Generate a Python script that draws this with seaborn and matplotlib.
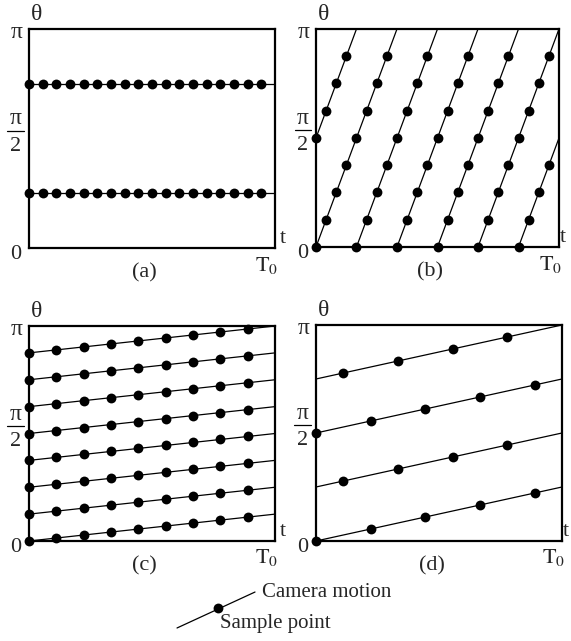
import numpy as np
import pandas as pd
import matplotlib
matplotlib.use("Agg")
import matplotlib.pyplot as plt
import seaborn as sns

# time is in units of T0, angle theta in units of pi
# (a) two fixed cameras, 18 samples
cams_a = [0.25, 0.75]
rate_a = 0.0
n_a = 18
sets_a = [[0.25, 0.75]]

# (b) two cameras turning fast, 24 samples
cams_b = [0.0, 0.5]
rate_b = 3.0
n_b = 24
sets_b = [[0.0, 0.5]]

# (c) eight cameras turning slowly, 9 samples
cams_c = [0.0, 0.125, 0.25, 0.375, 0.5, 0.625, 0.75, 0.875]
rate_c = 0.125
n_c = 9
sets_c = [cams_c]

# (d) four cameras, pairs sampled in turn, 9 samples
cams_d = [0.0, 0.25, 0.5, 0.75]
rate_d = 0.25
n_d = 9
sets_d = [[0.0, 0.5], [0.25, 0.75]]

panels = [("(a)", cams_a, rate_a, n_a, sets_a),
          ("(b)", cams_b, rate_b, n_b, sets_b),
          ("(c)", cams_c, rate_c, n_c, sets_c),
          ("(d)", cams_d, rate_d, n_d, sets_d)]

sns.set_theme(style="white")
plt.rcParams["font.family"] = ["Liberation Serif", "DejaVu Serif"]
plt.rcParams["mathtext.fontset"] = "stix"


def motion_lines(cams, rate):
    rows = []
    seg = 0
    for c in cams:
        if rate == 0:
            rows += [(seg, 0.0, c), (seg, 1.0, c)]
            seg += 1
            continue
        k = int(np.floor(c))
        while True:
            t0 = max(0.0, (k - c) / rate)
            t1 = min(1.0, (k + 1 - c) / rate)
            if t0 >= 1.0:
                break
            rows += [(seg, t0, c + rate * t0 - k), (seg, t1, c + rate * t1 - k)]
            seg += 1
            k += 1
    return pd.DataFrame(rows, columns=["seg", "t", "theta"])


def sample_points(rate, n, sets):
    rows = []
    for j in range(n):
        t = j / n
        for c in sets[j % len(sets)]:
            rows.append((t, (c + rate * t) % 1.0))
    return pd.DataFrame(rows, columns=["t", "theta"])


fig = plt.figure(figsize=(5.71, 6.41), dpi=100)
boxes = [[0.0508, 0.6131, 0.4308, 0.3417],
         [0.5534, 0.6147, 0.4256, 0.3401],
         [0.0508, 0.1560, 0.4308, 0.3354],
         [0.5534, 0.1560, 0.4308, 0.3370]]

fs = 15
gs = 17  # greek letters look a bit bigger in the original
for i, ((label, cams, rate, n, sets), box) in enumerate(zip(panels, boxes)):
    ax = fig.add_axes(box)
    lines = motion_lines(cams, rate)
    pts = sample_points(rate, n, sets)
    sns.lineplot(data=lines, x="t", y="theta", units="seg", estimator=None,
                 sort=False, color="black", lw=0.9, ax=ax, legend=False)
    sns.scatterplot(data=pts, x="t", y="theta", color="black", s=50,
                    linewidth=0, ax=ax, zorder=3, clip_on=False, legend=False)
    ax.set_xlim(0, 1)
    ax.set_ylim(0, 1)
    ax.set_xticks([])
    ax.set_yticks([])
    ax.set_xlabel("")
    ax.set_ylabel("")
    for sp in ax.spines.values():
        sp.set_visible(True)
        sp.set_color("black")
        sp.set_linewidth(1.6)

    tr = ax.transAxes
    ax.text(-0.05, 0.985, "π", transform=tr, ha="center", va="center", fontsize=gs)
    # pi over 2, stacked by hand so the letters stay upright
    ax.text(-0.055, 0.59, "π", transform=tr, ha="center", va="center", fontsize=gs)
    ax.plot([-0.088, -0.022], [0.535, 0.535], transform=tr, color="black",
            lw=0.9, clip_on=False)
    ax.text(-0.055, 0.465, "2", transform=tr, ha="center", va="center", fontsize=fs + 1)
    ax.text(-0.055, -0.03, "0", transform=tr, ha="center", va="center", fontsize=fs + 1)
    ax.text(0.03, 1.02, "θ", transform=tr, ha="center", va="bottom", fontsize=gs)
    tx = 1.02 if i % 2 == 0 else 1.005
    ax.text(tx, 0.0, "t", transform=tr, ha="left", va="bottom", fontsize=fs + 1)
    ax.text(0.965, -0.03, r"$\mathrm{T}_0$", transform=tr, ha="center", va="top", fontsize=fs + 1)
    ax.text(0.47, -0.115, label, transform=tr, ha="center", va="center", fontsize=fs + 1)

# legend sketch at the bottom
lax = fig.add_axes([0, 0, 1, 1])
lax.set_xlim(0, 1)
lax.set_ylim(0, 1)
lax.axis("off")
lax.plot([0.31, 0.4466], [0.0203, 0.0764], color="black", lw=0.9)
lax.scatter([0.3818], [0.0515], s=50, color="black", linewidths=0, zorder=3)
lax.text(0.459, 0.0686, "Camera motion", ha="left", va="baseline", fontsize=fs)
lax.text(0.385, 0.0203, "Sample point", ha="left", va="baseline", fontsize=fs)

fig.savefig("out.png", dpi=100)
